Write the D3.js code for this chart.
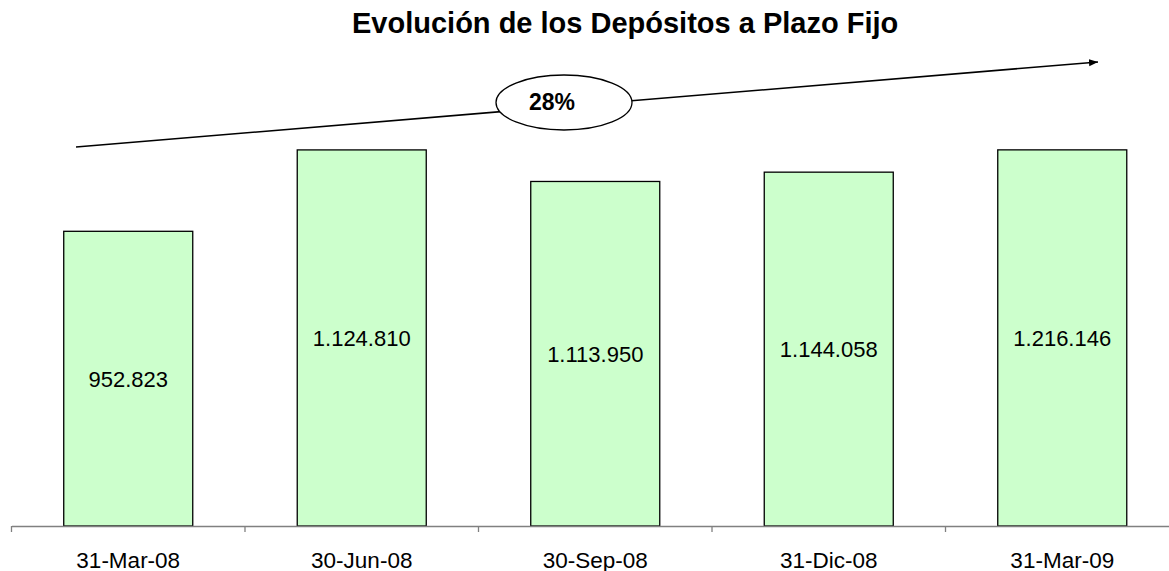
<!DOCTYPE html>
<html>
<head>
<meta charset="utf-8">
<script src="https://cdn.jsdelivr.net/npm/d3@7"></script>
<style>
  html, body { margin: 0; padding: 0; background: #fff; }
  svg { display: block; font-family: Arial, 'Liberation Sans', sans-serif; }
</style>
</head>
<body>
<div class="chart"></div>
<script>
const categories = ['31-Mar-08', '30-Jun-08', '30-Sep-08', '31-Dic-08', '31-Mar-09'];
// bar heights as drawn in the picture (the 2nd bar is drawn as tall as the last one)
const barValues = [952823, 1216000, 1113950, 1144058, 1216146];
// printed labels
const valueLabels = ['952.823', '1.124.810', '1.113.950', '1.144.058', '1.216.146'];
const growthLabel = '28%';
const title = 'Evolución de los Depósitos a Plazo Fijo';

const width = 1169,
  height = 571,
  baseY = 526;

const svg = d3
  .select('.chart')
  .append('svg')
  .attr('width', width)
  .attr('height', height);

// arrowhead
svg
  .append('defs')
  .append('marker')
  .attr('id', 'arrow')
  .attr('markerUnits', 'userSpaceOnUse')
  .attr('markerWidth', 10)
  .attr('markerHeight', 8)
  .attr('refX', 9)
  .attr('refY', 4)
  .attr('orient', 'auto')
  .append('path')
  .attr('d', 'M0,0.5 L9,4 L0,7.5 Z')
  .attr('fill', '#000');

const x = d3
  .scaleBand()
  .domain(categories)
  .range([11.5, 1179])
  .paddingInner(0.4475)
  .paddingOuter(0.2237);

const y = d3.scaleLinear().domain([0, 1400000]).range([baseY, 93]);

// title
svg
  .append('text')
  .attr('x', 352)
  .attr('y', 32.5)
  .attr('text-anchor', 'start')
  .style('font-size', '29px')
  .style('font-weight', 'bold')
  .text(title);

// bars
svg
  .selectAll('.bar')
  .data(barValues)
  .enter()
  .append('rect')
  .attr('class', 'bar')
  .attr('x', (d, i) => x(categories[i]))
  .attr('y', (d) => y(d))
  .attr('width', x.bandwidth())
  .attr('height', (d) => baseY - y(d))
  .attr('fill', '#ccffcc')
  .attr('stroke', '#000')
  .attr('stroke-width', 1.3);

// value labels
svg
  .selectAll('.val')
  .data(barValues)
  .enter()
  .append('text')
  .attr('class', 'val')
  .attr('x', (d, i) => x(categories[i]) + x.bandwidth() / 2)
  .attr('y', (d) => (y(d) + baseY) / 2)
  .attr('dy', '0.36em')
  .attr('text-anchor', 'middle')
  .style('font-size', '22px')
  .text((d, i) => valueLabels[i]);

// x axis
const axis = svg
  .append('g')
  .attr('transform', 'translate(0,' + baseY + ')')
  .call(d3.axisBottom(x).tickSize(0).tickSizeOuter(0));
axis.select('.domain').attr('stroke', '#808080').attr('stroke-width', 1.3);
axis
  .selectAll('text')
  .attr('y', 41.5)
  .attr('dy', 0)
  .style('font-size', '22.5px')
  .style('font-family', "Arial, 'Liberation Sans', sans-serif")
  .attr('fill', '#000');

// category boundary ticks
const step = x.step();
axis
  .selectAll('.sep')
  .data(d3.range(categories.length + 1))
  .enter()
  .append('line')
  .attr('class', 'sep')
  .attr('x1', (i) => x(categories[0]) - (step - x.bandwidth()) / 2 + i * step)
  .attr('x2', (i) => x(categories[0]) - (step - x.bandwidth()) / 2 + i * step)
  .attr('y1', 0)
  .attr('y2', 6)
  .attr('stroke', '#808080')
  .attr('stroke-width', 1.3);

// growth arrow
svg
  .append('line')
  .attr('x1', 76)
  .attr('y1', 147)
  .attr('x2', 1098)
  .attr('y2', 62)
  .attr('stroke', '#000')
  .attr('stroke-width', 1.6)
  .attr('marker-end', 'url(#arrow)');

svg
  .append('ellipse')
  .attr('cx', 564)
  .attr('cy', 102.5)
  .attr('rx', 68)
  .attr('ry', 27.5)
  .attr('fill', '#fff')
  .attr('stroke', '#000')
  .attr('stroke-width', 1.3);

svg
  .append('text')
  .attr('x', 552)
  .attr('y', 110)
  .attr('text-anchor', 'middle')
  .style('font-size', '23px')
  .style('font-weight', 'bold')
  .text(growthLabel);
</script>
</body>
</html>
